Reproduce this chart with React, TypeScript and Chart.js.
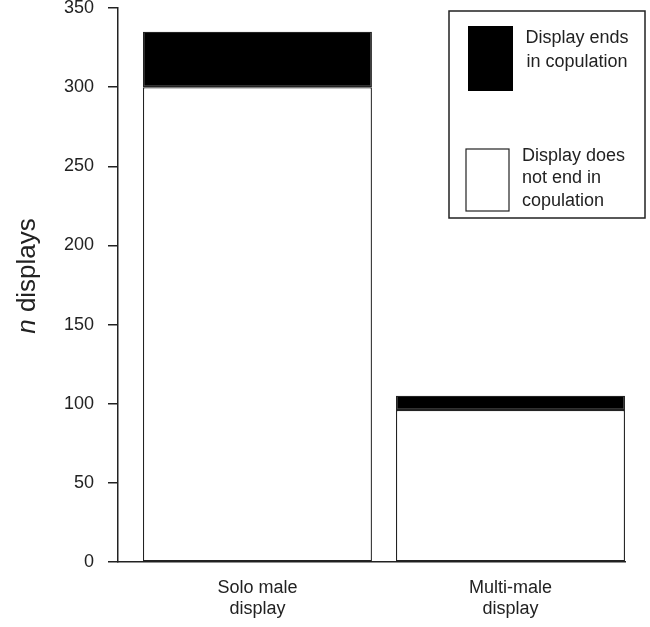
import React, { useEffect, useRef } from "react";
import { Chart, registerables } from "chart.js";

Chart.register(...registerables);

const categories: string[][] = [["Solo male", "display"], ["Multi-male", "display"]];
const notEndInCopulation: number[] = [300, 96];
const endsInCopulation: number[] = [35, 9];
const yTickValues: number[] = [0, 50, 100, 150, 200, 250, 300, 350];
const legendEnds: string[] = ["Display ends", "in copulation"];
const legendNotEnd: string[] = ["Display does", "not end in", "copulation"];
const yTitleItalic = "n";
const yTitleRest = " displays";

const FONT = "'Liberation Sans', Arial, Helvetica, sans-serif";
const INK = "#222";

const legendPlugin = {
  id: "customLegend",
  afterDraw(chart: any) {
    const ctx = chart.ctx as CanvasRenderingContext2D;
    ctx.save();
    ctx.strokeStyle = INK;
    ctx.lineWidth = 1.5;
    ctx.fillStyle = "#fff";
    ctx.fillRect(449, 11, 196, 207);
    ctx.strokeRect(449, 11, 196, 207);
    ctx.fillStyle = "#000";
    ctx.fillRect(468, 26, 45, 65);
    ctx.fillStyle = "#fff";
    ctx.lineWidth = 1.2;
    ctx.fillRect(466, 149, 43, 62);
    ctx.strokeRect(466, 149, 43, 62);
    ctx.fillStyle = INK;
    ctx.font = `18px ${FONT}`;
    ctx.textBaseline = "middle";
    ctx.textAlign = "center";
    legendEnds.forEach((t, i) => ctx.fillText(t, 577, 38 + i * 24));
    ctx.textAlign = "left";
    legendNotEnd.forEach((t, i) => ctx.fillText(t, 522, 156 + i * 22.5));
    ctx.restore();
  },
};

const yTitlePlugin = {
  id: "yTitle",
  afterDraw(chart: any) {
    const ctx = chart.ctx as CanvasRenderingContext2D;
    ctx.save();
    ctx.translate(28, 276);
    ctx.rotate(-Math.PI / 2);
    ctx.fillStyle = INK;
    ctx.textBaseline = "middle";
    ctx.textAlign = "left";
    ctx.font = `italic 26px ${FONT}`;
    const w1 = ctx.measureText(yTitleItalic).width;
    ctx.font = `26px ${FONT}`;
    const w2 = ctx.measureText(yTitleRest).width;
    const start = -(w1 + w2) / 2;
    ctx.font = `italic 26px ${FONT}`;
    ctx.fillText(yTitleItalic, start, 0);
    ctx.font = `26px ${FONT}`;
    ctx.fillText(yTitleRest, start + w1, 0);
    ctx.restore();
  },
};

export default function App() {
  const ref = useRef<HTMLCanvasElement | null>(null);
  useEffect(() => {
    if (!ref.current) return;
    const chart = new Chart(ref.current, {
      type: "bar",
      data: {
        datasets: [
          {
            label: legendNotEnd.join(" "),
            data: notEndInCopulation.map((v, i) => ({ x: i, y: v })),
            backgroundColor: "#fff",
            borderColor: INK,
            borderWidth: 1.3,
            borderSkipped: false,
            categoryPercentage: 1,
            barPercentage: 0.905,
          },
          {
            label: legendEnds.join(" "),
            data: endsInCopulation.map((v, i) => ({ x: i, y: v })),
            backgroundColor: "#000",
            borderColor: INK,
            borderWidth: 1.3,
            borderSkipped: false,
            categoryPercentage: 1,
            barPercentage: 0.905,
          },
        ],
      } as any,
      options: {
        responsive: false,
        animation: false,
        devicePixelRatio: 1,
        layout: { padding: { left: 0, right: 25, top: 8, bottom: 0 } },
        plugins: { legend: { display: false }, tooltip: { enabled: false } },
        scales: {
          x: {
            type: "linear",
            stacked: true,
            offset: false,
            min: -0.551,
            max: 1.4526,
            afterBuildTicks: (s: any) => {
              s.ticks = categories.map((_, i) => ({ value: i }));
            },
            ticks: {
              callback: (v: any) => categories[v as number] ?? "",
              font: { family: FONT, size: 18 },
              color: INK,
              padding: 15,
              maxRotation: 0,
              autoSkip: false,
            },
            grid: { display: false, drawTicks: false, offset: false },
            border: { display: true, color: INK, width: 1.5 },
            afterFit: (s: any) => {
              s.height = 65;
              s.paddingLeft = 0;
              s.paddingRight = 0;
            },
          },
          y: {
            stacked: true,
            min: 0,
            max: 350,
            afterBuildTicks: (s: any) => {
              s.ticks = yTickValues.map((v) => ({ value: v }));
            },
            ticks: {
              font: { family: FONT, size: 18 },
              color: INK,
              padding: 14,
            },
            grid: {
              drawOnChartArea: false,
              drawTicks: true,
              tickLength: 10,
              color: INK,
              lineWidth: 1.5,
            },
            border: { display: true, color: INK, width: 1.5 },
            afterFit: (s: any) => {
              s.width = 118;
              s.paddingTop = 0;
              s.paddingBottom = 0;
            },
          },
        },
      } as any,
      plugins: [legendPlugin, yTitlePlugin],
    });
    return () => chart.destroy();
  }, []);
  return (
    <canvas
      ref={ref}
      width={650}
      height={627}
      style={{ position: "absolute", left: 0, top: 0, background: "#fff" }}
    />
  );
}
